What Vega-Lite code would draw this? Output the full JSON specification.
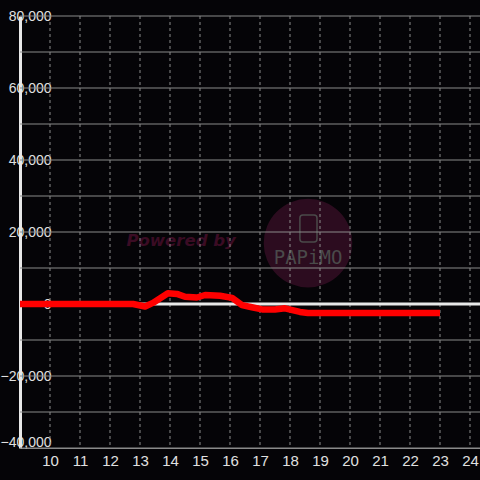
{
  "$schema": "https://vega.github.io/schema/vega-lite/v6.json",
  "width": 460,
  "height": 432,
  "autosize": {"type": "none"},
  "padding": {"left": 20, "top": 16, "right": 0, "bottom": 32},
  "background": "#050407",
  "data": {"values": [{"k": 1}]},
  "config": {
    "view": {"stroke": null},
    "axisX": {"title": null, "grid": false, "ticks": false, "domain": true, "domainColor": "#8a8a8a", "domainWidth": 1, "labelColor": "#e0e0e0", "labelFont": "Liberation Sans", "labelFontSize": 15, "labelPadding": 5, "labelFlush": false, "labelOverlap": false, "labelBound": false, "tickCount": 15},
    "axisY": {"title": null, "grid": false, "ticks": false, "domain": true, "domainColor": "#e8e8e8", "domainWidth": 3, "labelColor": "#e0e0e0", "labelFont": "Liberation Sans", "labelFontSize": 14, "labelPadding": -31, "labelFlush": false, "labelBound": false, "tickCount": 12}
  },
  "datasets": {
    "series": [
      {"h": 9.0, "v": 0}, {"h": 12.77, "v": 0}, {"h": 13.17, "v": -700}, {"h": 13.43, "v": 300},
      {"h": 13.93, "v": 3000}, {"h": 14.23, "v": 2800}, {"h": 14.5, "v": 2000}, {"h": 14.9, "v": 1800},
      {"h": 15.17, "v": 2500}, {"h": 15.67, "v": 2300}, {"h": 16.07, "v": 1700}, {"h": 16.4, "v": -300},
      {"h": 16.73, "v": -900}, {"h": 17.07, "v": -1500}, {"h": 17.5, "v": -1500}, {"h": 17.83, "v": -1200},
      {"h": 18.33, "v": -2200}, {"h": 18.6, "v": -2500}, {"h": 23.0, "v": -2500}
    ],
    "hgrid": [
      {"v": -40000}, {"v": -30000}, {"v": -20000}, {"v": -10000}, {"v": 10000}, {"v": 20000},
      {"v": 30000}, {"v": 40000}, {"v": 50000}, {"v": 60000}, {"v": 70000}, {"v": 80000}
    ],
    "vgrid": [
      {"h": 10}, {"h": 11}, {"h": 12}, {"h": 13}, {"h": 14}, {"h": 15}, {"h": 16}, {"h": 17},
      {"h": 18}, {"h": 19}, {"h": 20}, {"h": 21}, {"h": 22}, {"h": 23}, {"h": 24}
    ]
  },
  "layer": [
    {
      "mark": {"type": "point", "filled": true, "color": "#2c0c1f", "opacity": 1, "size": 7850},
      "encoding": {
        "x": {"datum": 18.6, "type": "quantitative", "scale": {"domain": [9, 24.3333], "nice": false, "zero": false},
          "axis": {"format": "d", "labelOverlap": false, "tickCount": 15, "labelExpr": "datum.value < 10 ? '' : datum.label"}},
        "y": {"datum": 16900, "type": "quantitative", "scale": {"domain": [-40000, 80000], "nice": false},
          "axis": {"format": ",.0f", "tickCount": 12, "labelExpr": "datum.value % 20000 == 0 ? datum.label : ''", "labelOffset": {"condition": {"test": "datum.value == -40000", "value": -6}, "value": 0}}}
      }
    },
    {
      "mark": {"type": "text", "text": "Powered by", "font": "DejaVu Sans", "fontSize": 16.5, "fontWeight": "bold", "fontStyle": "italic", "color": "#3b0c24", "align": "center", "baseline": "middle"},
      "encoding": {
        "x": {"datum": 14.37, "type": "quantitative", "axis": {"format": "d", "labelOverlap": false, "tickCount": 15, "labelExpr": "datum.value < 10 ? '' : datum.label"}},
        "y": {"datum": 17500, "type": "quantitative", "axis": {"format": ",.0f", "tickCount": 12, "labelExpr": "datum.value % 20000 == 0 ? datum.label : ''"}}
      }
    },
    {
      "mark": {"type": "rect", "fill": null, "filled": false, "stroke": "#4a4a4a", "strokeWidth": 1.5, "cornerRadius": 3},
      "encoding": {
        "x": {"datum": 18.33, "type": "quantitative", "axis": {"format": "d", "labelOverlap": false, "tickCount": 15, "labelExpr": "datum.value < 10 ? '' : datum.label"}},
        "x2": {"datum": 18.9},
        "y": {"datum": 24700, "type": "quantitative", "axis": {"format": ",.0f", "tickCount": 12, "labelExpr": "datum.value % 20000 == 0 ? datum.label : ''"}},
        "y2": {"datum": 17200}
      }
    },
    {
      "mark": {"type": "text", "text": "PAPiMO", "font": "DejaVu Sans Mono", "fontSize": 19, "color": "#4a4a4a", "align": "center", "baseline": "middle"},
      "encoding": {
        "x": {"datum": 18.6, "type": "quantitative", "axis": {"format": "d", "labelOverlap": false, "tickCount": 15, "labelExpr": "datum.value < 10 ? '' : datum.label"}},
        "y": {"datum": 12800, "type": "quantitative", "axis": {"format": ",.0f", "tickCount": 12, "labelExpr": "datum.value % 20000 == 0 ? datum.label : ''"}}
      }
    },
    {
      "data": {"name": "hgrid"},
      "mark": {"type": "rule", "color": "#8a8a8a", "strokeWidth": 1},
      "encoding": {"y": {"field": "v", "type": "quantitative", "axis": {"format": ",.0f", "tickCount": 12, "labelExpr": "datum.value % 20000 == 0 ? datum.label : ''"}}}
    },
    {
      "data": {"name": "vgrid"},
      "mark": {"type": "rule", "color": "#8c8c8c", "strokeWidth": 1, "strokeDash": [3, 3]},
      "encoding": {"x": {"field": "h", "type": "quantitative", "axis": {"format": "d", "labelOverlap": false, "tickCount": 15, "labelExpr": "datum.value < 10 ? '' : datum.label"}}}
    },
    {
      "mark": {"type": "rule", "color": "#e8e8e8", "strokeWidth": 3},
      "encoding": {"y": {"datum": 0, "type": "quantitative", "axis": {"format": ",.0f", "tickCount": 12, "labelExpr": "datum.value % 20000 == 0 ? datum.label : ''"}}}
    },
    {
      "data": {"name": "series"},
      "mark": {"type": "line", "color": "#ff0000", "strokeWidth": 6.5, "strokeJoin": "round", "strokeCap": "butt", "clip": true},
      "encoding": {
        "x": {"field": "h", "type": "quantitative", "axis": {"format": "d", "labelOverlap": false, "tickCount": 15, "labelExpr": "datum.value < 10 ? '' : datum.label"}},
        "y": {"field": "v", "type": "quantitative", "axis": {"format": ",.0f", "tickCount": 12, "labelExpr": "datum.value % 20000 == 0 ? datum.label : ''"}}
      }
    }
  ]
}
